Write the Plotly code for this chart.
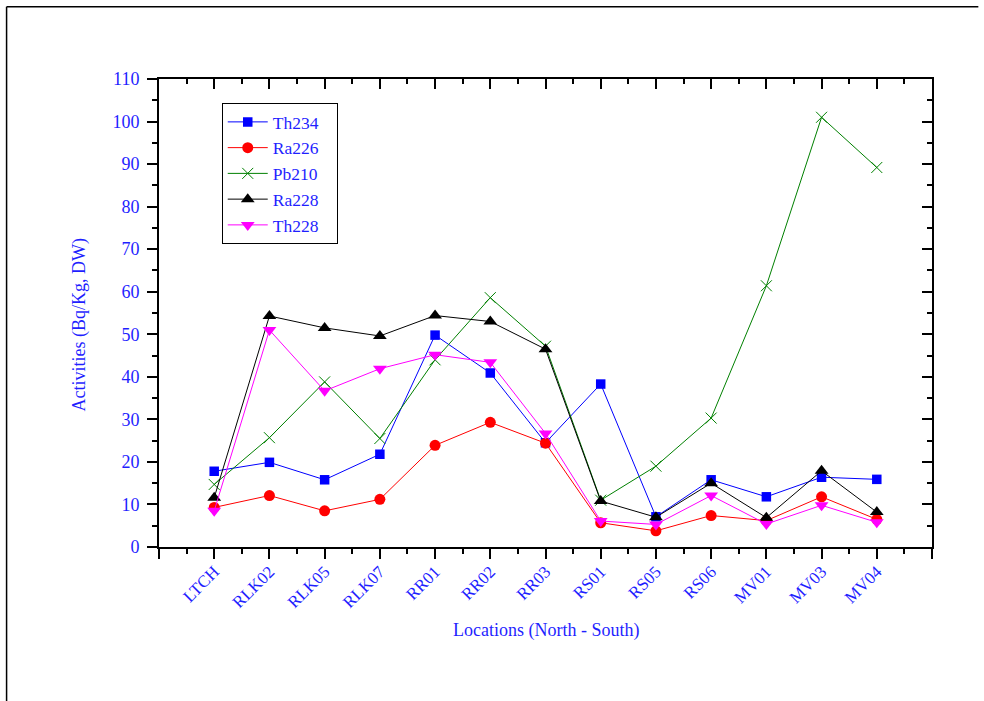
import plotly.graph_objects as go

locations = ["LTCH", "RLK02", "RLK05", "RLK07", "RR01", "RR02", "RR03",
             "RS01", "RS05", "RS06", "MV01", "MV03", "MV04"]
th234 = [17.8, 19.9, 15.8, 21.8, 49.8, 40.9, 24.5, 38.3, 7.1, 15.8, 11.8, 16.4, 15.9]
ra226 = [9.3, 12.1, 8.5, 11.2, 23.9, 29.3, 24.4, 5.7, 3.8, 7.4, 6.2, 11.8, 6.5]
pb210 = [14.7, 25.7, 38.8, 25.5, 44.0, 58.6, 47.2, 11.0, 19.0, 30.3, 61.4, 101.0, 89.2]
ra228 = [11.6, 54.3, 51.5, 49.6, 54.4, 53.0, 46.5, 10.8, 7.0, 15.0, 6.9, 17.9, 8.2]
th228 = [8.5, 51.0, 36.7, 41.9, 45.2, 43.4, 26.7, 6.1, 5.3, 12.1, 5.4, 9.8, 5.8]
y_ticks = list(range(0, 111, 10))

series = [
    ("Th234", th234, "#0000ff", "square", 9.5),
    ("Ra226", ra226, "#ff0000", "circle", 11),
    ("Pb210", pb210, "#008000", "x-thin-open", 11),
    ("Ra228", ra228, "#000000", "triangle-up", 12),
    ("Th228", th228, "#ff00ff", "triangle-down", 12),
]

xidx = list(range(len(locations)))
FONT = "Liberation Serif, Times New Roman, serif"
BLUE = "#1f1fff"

fig = go.Figure()
for name, vals, color, sym, size in series:
    mk = dict(symbol=sym, size=size, color=color)
    if sym == "x-thin-open":
        mk["line"] = dict(color=color, width=1)
    fig.add_trace(go.Scatter(x=xidx, y=vals, name=name + "\u00a0\u00a0\u00a0",
                             mode="lines+markers",
                             line=dict(color=color, width=1), marker=mk))

# invisible trace for mirrored inner-tick axes
fig.add_trace(go.Scatter(x=[-1, 13], y=[0, 110], xaxis="x2", yaxis="y2",
                         mode="markers", marker=dict(opacity=0), showlegend=False,
                         hoverinfo="skip"))

L, R, T, B = 159.3, 931.7, 79.3, 547.0
W, H = 984, 701
pw, ph = R - L, B - T

major_x = list(range(-1, 14))
major_text = [""] + locations + [""]
minor_x = [i + 0.5 for i in range(-1, 13)]

def px2x(p):
    return (p - L) / pw

def px2y(p):
    return (B - p) / ph

fig.update_layout(
    width=W, height=H,
    margin=dict(l=L, r=W - R, t=T, b=H - B),
    paper_bgcolor="white", plot_bgcolor="white",
    font=dict(family=FONT, color=BLUE),
    showlegend=True,
    legend=dict(x=px2x(222), y=px2y(103.3), xanchor="left", yanchor="top",
                bordercolor="black", borderwidth=1, bgcolor="white",
                font=dict(family=FONT, size=17.5, color=BLUE),
                itemwidth=40, tracegroupgap=0),
    xaxis=dict(range=[-1, 13], tickmode="array", tickvals=major_x, ticktext=major_text,
               tickangle=-45, ticks="outside", ticklen=10, tickwidth=2, tickcolor="black",
               showline=True, linecolor="black", linewidth=2, showgrid=False, zeroline=False,
               tickfont=dict(family=FONT, size=17, color=BLUE), ticklabelstandoff=-4,
               minor=dict(tickmode="array", tickvals=minor_x, ticks="outside", ticklen=5,
                          tickwidth=2, tickcolor="black", showgrid=False)),
    yaxis=dict(range=[0, 110], tickmode="array", tickvals=y_ticks, ticks="outside",
               ticklen=10, tickwidth=2, tickcolor="black",
               showline=True, linecolor="black", linewidth=2, showgrid=False, zeroline=False,
               tickfont=dict(family=FONT, size=18, color=BLUE), ticklabelstandoff=4,
               minor=dict(dtick=5, tick0=0, ticks="outside", ticklen=5, tickwidth=2,
                          tickcolor="black", showgrid=False)),
    xaxis2=dict(overlaying="x", side="top", range=[-1, 13], tickmode="array",
                tickvals=major_x, ticktext=[""] * len(major_x), ticks="inside", ticklen=10,
                tickwidth=2, tickcolor="black", showline=True, linecolor="black",
                linewidth=2, showgrid=False, zeroline=False,
                minor=dict(tickmode="array", tickvals=minor_x, ticks="inside", ticklen=5,
                           tickwidth=2, tickcolor="black", showgrid=False)),
    yaxis2=dict(overlaying="y", side="right", range=[0, 110], tickmode="array",
                tickvals=y_ticks, ticktext=[""] * len(y_ticks), ticks="inside", ticklen=10,
                tickwidth=2, tickcolor="black", showline=True, linecolor="black",
                linewidth=2, showgrid=False, zeroline=False,
                minor=dict(dtick=5, tick0=0, ticks="inside", ticklen=5, tickwidth=2,
                           tickcolor="black", showgrid=False)),
)

fig.add_annotation(text="Locations (North - South)", xref="paper", yref="paper",
                   x=px2x(545.5), y=px2y(630), xanchor="center", yanchor="middle",
                   showarrow=False, font=dict(family=FONT, size=18, color=BLUE))
fig.add_annotation(text="Activities (Bq/Kg, DW)", xref="paper", yref="paper",
                   x=px2x(80), y=px2y(325), xanchor="center", yanchor="middle",
                   textangle=-90, showarrow=False,
                   font=dict(family=FONT, size=18, color=BLUE))

frame = dict(type="line", xref="paper", yref="paper", line=dict(color="black", width=1.5))
fig.add_shape(**frame, x0=px2x(7), y0=px2y(7), x1=px2x(978), y1=px2y(7))
fig.add_shape(**frame, x0=px2x(7), y0=px2y(7), x1=px2x(7), y1=px2y(701))

fig.write_html("out.html", config={"displayModeBar": False},
               post_script="document.body.style.margin='0';")
